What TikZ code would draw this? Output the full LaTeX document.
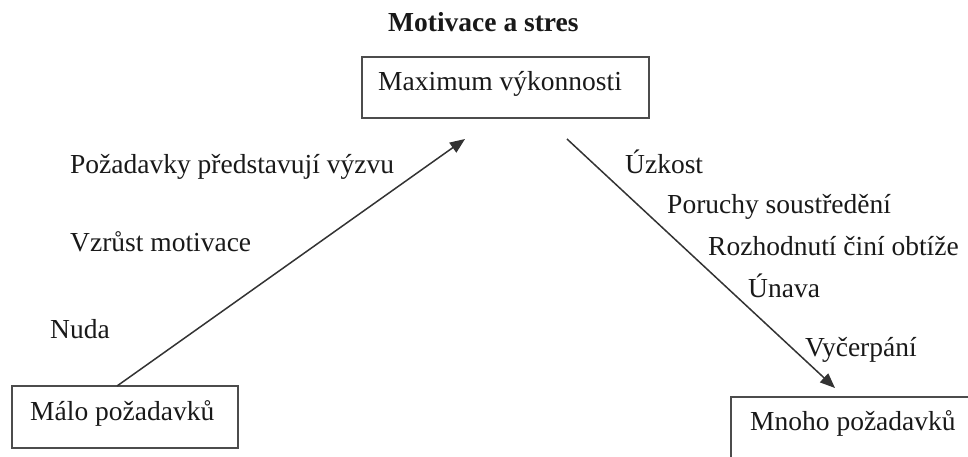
\documentclass[tikz,border=0pt]{standalone}
\usepackage{fontspec}
\setmainfont{Liberation Serif}
\usetikzlibrary{arrows.meta}
\begin{document}
\begin{tikzpicture}[x=1pt,y=-1pt,
  box/.style={draw=black!70,line width=1.6pt,rectangle,inner sep=0pt},
  lbl/.style={anchor=base west,inner sep=0pt,font=\fontsize{27.5}{33}\selectfont,text=black!90},
  conn/.style={draw=black!80,line width=1.5pt,-{Triangle[length=15pt,width=12pt]}}]
\clip (0,0) rectangle (968,456);
\useasboundingbox (0,0) rectangle (968,456);
% boxes
\node[box,minimum width=287pt,minimum height=61pt] (top) at (505.5,87.5) {};
\node[box,minimum width=226pt,minimum height=62pt] (malo) at (125,417) {};
\node[box,minimum width=250pt,minimum height=62pt] (mnoho) at (856,428) {};
% texts in boxes
\node[lbl,font=\fontsize{27.5}{33}\selectfont\bfseries] (title) at (388,31) {Motivace a stres};
\node[lbl] (ttop) at (378,90) {Maximum výkonnosti};
\node[lbl] (tmalo) at (30,420) {Málo požadavků};
\node[lbl] (tmnoho) at (750,430) {Mnoho požadavků};
% left labels
\node[lbl] (l1) at (70,173) {Požadavky představují výzvu};
\node[lbl] (l2) at (70,251) {Vzrůst motivace};
\node[lbl] (l3) at (50,338) {Nuda};
% right labels
\node[lbl] (r1) at (625,173) {Úzkost};
\node[lbl] (r2) at (667,213) {Poruchy soustředění};
\node[lbl] (r3) at (708,255) {Rozhodnutí činí obtíže};
\node[lbl] (r4) at (748,297) {Únava};
\node[lbl] (r5) at (805,356) {Vyčerpání};
% connectors
\coordinate (a1s) at (117,386);
\coordinate (a1e) at (465,139);
\coordinate (a2s) at (567,139);
\coordinate (a2e) at (835,388);
\draw[conn] (a1s) -- (a1e);
\draw[conn] (a2s) -- (a2e);
\end{tikzpicture}
\end{document}
